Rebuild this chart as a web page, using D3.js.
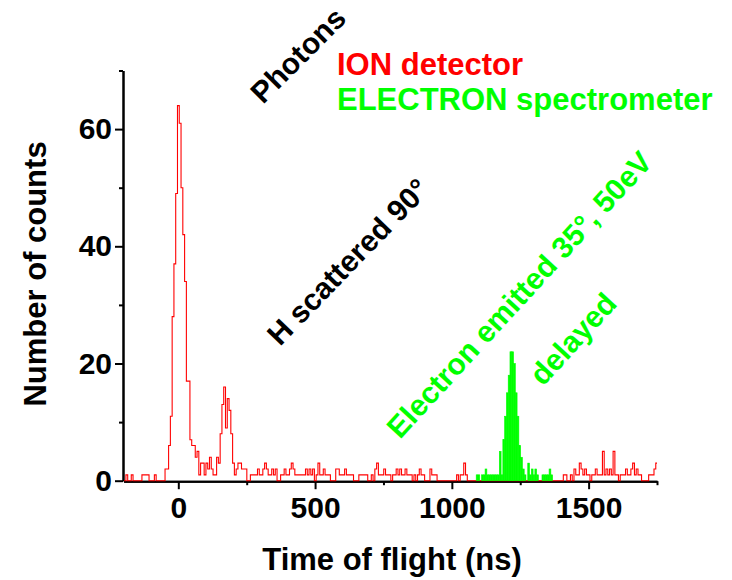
<!DOCTYPE html>
<html>
<head>
<meta charset="utf-8">
<script src="https://cdn.jsdelivr.net/npm/d3@7"></script>
<style>
  body { margin: 0; background: #fff; }
  text { font-family: "Liberation Sans", Arial, sans-serif; font-weight: bold; }
</style>
</head>
<body>
<div id="chart"></div>
<script>
// histogram bins (ns)
const binStart = -198;
const binWidth = 6.5;

// ION detector counts, one value per bin from binStart
const ionCounts = [
  0,1,0,0,1,0,0,0,0,0,   1,1,1,1,0,0,0,1,0,0,
  0,0,0,2,2,6,11,28,37,49, 64,61,50,42,34,17,17,7,6,6,
  4,5,1,3,3,1,3,2,4,2,   1,1,4,3,8,13,16,9,14,12,
  8,3,1,2,3,3,2,2,2,0,   0,1,1,1,1,2,1,1,2,3,
  2,1,1,2,1,2,0,0,1,1,   2,1,1,2,3,2,1,1,1,1,
  1,1,2,1,2,1,2,0,1,3,   1,1,2,1,1,1,0,0,0,2,
  2,1,1,1,2,1,1,1,1,0,   0,0,1,1,1,1,1,0,0,1,
  0,2,3,1,1,1,2,1,1,1,   0,1,1,2,1,2,1,1,2,1,
  1,1,0,1,0,1,2,1,1,0,   0,0,2,1,1,1,0,0,0,0,
  0,0,0,0,0,0,0,1,0,1,   1,3,1,0,0,0,0,0,0,0,
  0,0,0,0,0,0,0,0,0,0,   0,0,0,0,0,0,0,0,0,0,
  0,0,0,0,0,0,0,0,0,0,   0,0,0,0,0,0,0,0,0,0,
  0,0,0,0,0,0,0,1,1,0,   0,1,0,2,1,1,3,2,1,2,
  1,1,0,1,1,2,1,1,1,5,   1,2,1,2,1,5,1,1,0,1,
  1,1,2,1,1,2,3,1,2,1,   1,0,0,0,0,1,1,1,2,3
];

// ELECTRON spectrometer counts, bins from electronStart
const electronStart = 1089;
const electronCounts = [
  1,1,0,1,1,2,1,1,1,1,
  1,1,1,5,1,7,11,15,18,22,
  22,20,15,11,6,4,2,1,0,3,
  1,2,1,2,1,0,0,1,1,1,
  1,2,1
];

const xMajor = [0, 500, 1000, 1500];
const xMinor = [250, 750, 1250, 1750];
const yMajor = [0, 20, 40, 60];
const yMinor = [10, 30, 50, 70];

const width = 732;
const height = 580;

const svg = d3.select("#chart")
  .append("svg")
  .attr("width", width)
  .attr("height", height);

const xScale = d3.scaleLinear()
  .domain([-200, 1750])
  .range([123.6, 657]);

const yScale = d3.scaleLinear()
  .domain([0, 70])
  .range([480.7, 70.5]);

// axes
function styleAxis(g) {
  g.attr("font-size", 30)
   .attr("font-family", "'Liberation Sans', Arial, sans-serif")
   .attr("font-weight", "bold");
  g.selectAll("path, line").attr("stroke", "#000").attr("stroke-width", 2);
  g.selectAll("text").attr("fill", "#000");
}

svg.append("g")
  .attr("transform", `translate(0,${yScale(0) + 0.5})`)
  .call(d3.axisBottom(xScale).tickValues(xMajor).tickSize(8).tickSizeOuter(0).tickPadding(8).tickFormat(d3.format("d")))
  .call(styleAxis);

svg.append("g")
  .attr("transform", `translate(0,${yScale(0) + 0.5})`)
  .call(d3.axisBottom(xScale).tickValues(xMinor).tickSize(4).tickSizeOuter(0).tickFormat(""))
  .call(styleAxis);

svg.append("g")
  .attr("transform", "translate(123,0)")
  .call(d3.axisLeft(yScale).tickValues(yMajor).tickSize(8).tickSizeOuter(0).tickPadding(3))
  .call(styleAxis);

svg.append("g")
  .attr("transform", "translate(123,0)")
  .call(d3.axisLeft(yScale).tickValues(yMinor).tickSize(4).tickSizeOuter(0).tickFormat(""))
  .call(styleAxis);

svg.append("clipPath")
  .attr("id", "plot")
  .append("rect")
  .attr("x", xScale(-200))
  .attr("y", 0)
  .attr("width", xScale(1750) - xScale(-200))
  .attr("height", height);

// red step histogram
const ionPoints = ionCounts.map((c, i) => [binStart + i * binWidth, c]);
ionPoints.push([binStart + ionCounts.length * binWidth, ionCounts[ionCounts.length - 1]]);

const line = d3.line()
  .x(d => xScale(d[0]))
  .y(d => yScale(d[1]))
  .curve(d3.curveStepAfter);

svg.append("path")
  .datum(ionPoints)
  .attr("clip-path", "url(#plot)")
  .attr("fill", "none")
  .attr("stroke", "#ff0000")
  .attr("stroke-width", 1.1)
  .attr("d", line);

// green filled columns
svg.append("g")
  .selectAll("rect")
  .data(electronCounts)
  .join("rect")
  .attr("x", (d, i) => xScale(electronStart + i * binWidth))
  .attr("width", xScale(binWidth) - xScale(0))
  .attr("y", d => yScale(d))
  .attr("height", d => yScale(0) - yScale(d))
  .attr("fill", "#00ff00")
  .attr("stroke", "#00ff00")
  .attr("stroke-width", 0.6);

// axis titles
svg.append("text")
  .attr("x", 392)
  .attr("y", 570)
  .attr("text-anchor", "middle")
  .attr("font-size", 31)
  .text("Time of flight (ns)");

svg.append("text")
  .attr("transform", "translate(46,274) rotate(-90)")
  .attr("text-anchor", "middle")
  .attr("font-size", 31)
  .text("Number of counts");

// legend-like labels
svg.append("text")
  .attr("x", 337).attr("y", 75)
  .attr("font-size", 31)
  .attr("fill", "#ff0000")
  .text("ION detector");

svg.append("text")
  .attr("x", 337).attr("y", 110)
  .attr("font-size", 31)
  .attr("fill", "#00ff00")
  .text("ELECTRON spectrometer");

// rotated annotations
svg.append("text")
  .attr("transform", "translate(263,105) rotate(-45)")
  .attr("font-size", 30)
  .text("Photons");

svg.append("text")
  .attr("transform", "translate(280,347) rotate(-46)")
  .attr("font-size", 30)
  .text("H scattered 90°");

svg.append("text")
  .attr("transform", "translate(400,440) rotate(-47.5)")
  .attr("font-size", 30)
  .attr("fill", "#00ff00")
  .text("Electron emitted 35°, 50eV");

svg.append("text")
  .attr("transform", "translate(543,387) rotate(-47.5)")
  .attr("font-size", 30)
  .attr("fill", "#00ff00")
  .text("delayed");
</script>
</body>
</html>
